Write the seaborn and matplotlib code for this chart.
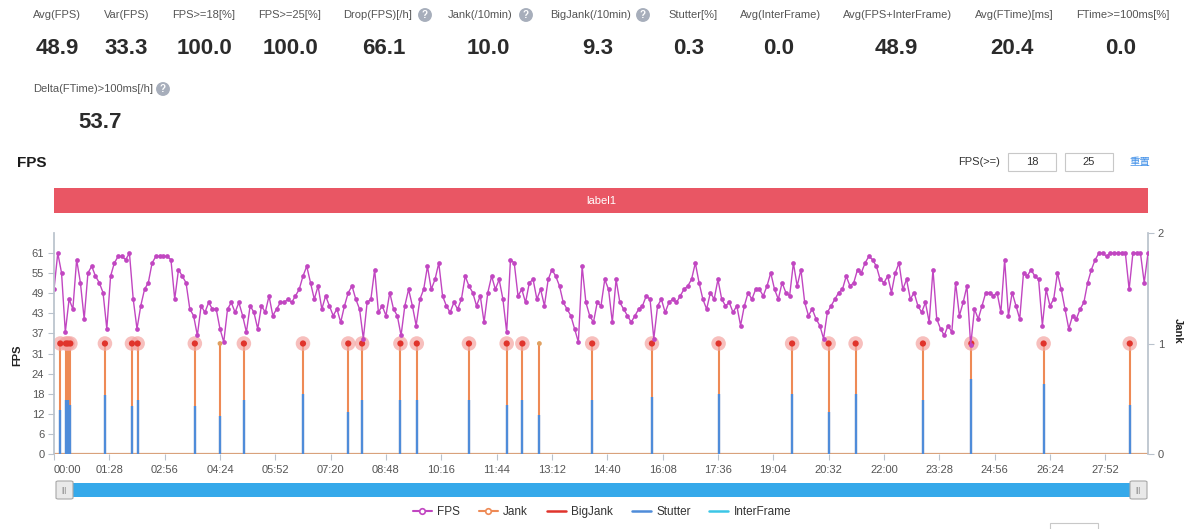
import numpy as np
import pandas as pd
import matplotlib
matplotlib.use("Agg")
import matplotlib.pyplot as plt
import seaborn as sns
from matplotlib.patches import Rectangle, FancyBboxPatch
from matplotlib.lines import Line2D

# ---------------- data ----------------
stat_labels = ["Avg(FPS)", "Var(FPS)", "FPS>=18[%]", "FPS>=25[%]", "Drop(FPS)[/h]",
               "Jank(/10min)", "BigJank(/10min)", "Stutter[%]", "Avg(InterFrame)",
               "Avg(FPS+InterFrame)", "Avg(FTime)[ms]", "FTime>=100ms[%]"]
stat_values = [48.9, 33.3, 100.0, 100.0, 66.1, 10.0, 9.3, 0.3, 0.0, 48.9, 20.4, 0.0]
stat_help = [False, False, False, False, True, True, True, False, False, False, False, False]
stat2_label = "Delta(FTime)>100ms[/h]"
stat2_value = 53.7

fps_step_s = 6
fps_values = [
    50, 61, 55, 37, 47, 44, 59, 52, 41, 55, 57, 54, 52, 49, 38, 54, 58, 60, 60, 59,
    61, 47, 38, 45, 50, 52, 58, 60, 60, 60, 60, 59, 47, 56, 54, 52, 44, 42, 36, 45,
    43, 46, 44, 44, 38, 34, 44, 46, 43, 46, 42, 37, 45, 43, 38, 45, 43, 48, 42, 44,
    46, 46, 47, 46, 48, 50, 54, 57, 52, 47, 51, 44, 48,
    45, 42, 44, 40, 45, 49, 51, 47, 44, 35, 46, 47, 56, 43, 45, 42, 49, 44, 42, 36,
    45, 50, 45, 39, 47, 50, 57, 50, 53, 58, 48, 45, 43, 46, 44, 47, 54, 51, 49, 45,
    48, 40, 49, 54, 50, 53, 47, 37, 59, 58, 48, 50, 46, 52, 53, 47, 50, 45, 53, 56,
    54, 51, 46, 44, 42, 38, 34, 57, 46, 42, 40, 46,
    45, 53, 50, 40, 53, 46, 44, 42, 40, 42, 44, 45, 48, 47, 35, 45, 47, 43, 46, 47,
    46, 48, 50, 51, 53, 58, 52, 47, 44, 49, 47, 53, 47, 45, 46, 43, 45, 39, 45, 49,
    47, 50, 50, 48, 51, 55, 50, 47, 52, 49, 48, 58, 51, 56, 46, 42, 44, 41, 39, 35,
    43, 45, 47, 49, 50, 54, 51, 52, 56, 55, 58, 60,
    59, 57, 53, 52, 54, 49, 55, 58, 50, 53, 47, 49, 45, 43, 46, 40, 56, 41, 38, 36,
    39, 37, 52, 42, 46, 51, 45, 44, 41, 45, 49, 49, 48, 49, 43, 59, 42, 49, 45, 41,
    55, 54, 56, 54, 53, 39, 50, 45, 47, 55, 50, 44, 38, 42, 41, 44, 46, 52, 56, 59,
    61, 61, 60, 61, 61, 61, 61, 61, 50, 61, 61, 61, 52, 61,
]
fps_values[1458 // 6] = 33

jank_times = [10, 19, 22, 26, 81, 124, 133, 224, 264, 302, 396, 468, 490, 551, 577,
              660, 720, 745, 772, 856, 951, 1057, 1174, 1232, 1275, 1382, 1459, 1574, 1711]
bigjank_flags = [1, 1, 1, 1, 1, 1, 1, 1, 0, 1, 1, 1, 1, 1, 1,
                 1, 1, 1, 0, 1, 1, 1, 1, 1, 1, 1, 1, 1, 1]
stutter_values = [0.40, 0.49, 0.49, 0.44, 0.53, 0.43, 0.49, 0.43, 0.34, 0.49, 0.54, 0.38,
                  0.49, 0.49, 0.49, 0.49, 0.44, 0.49, 0.35, 0.49, 0.52, 0.54, 0.54, 0.38,
                  0.54, 0.49, 0.68, 0.63, 0.44]
x_tick_labels = ["00:00", "01:28", "02:56", "04:24", "05:52", "07:20", "08:48", "10:16",
                 "11:44", "13:12", "14:40", "16:08", "17:36", "19:04", "20:32", "22:00",
                 "23:28", "24:56", "26:24", "27:52"]
y_left_ticks = [0, 6.1, 12.2, 18.3, 24.4, 30.5, 36.6, 42.7, 48.8, 54.9, 61.0]
y_left_tick_labels = ["0", "6", "12", "18", "24", "31", "37", "43", "49", "55", "61"]
y_right_ticks = [0, 1, 2]
t_end = 1740
fps_threshold = ["18", "25"]
band_label = "label1"

# ---------------- style ----------------
sns.set_theme(style="white")
plt.rcParams['font.family'] = ['Liberation Sans', 'Noto Sans CJK SC', 'DejaVu Sans']

C_FPS = "#c146c1"
C_JANK = "#ee8a55"
C_BIG = "#e0342c"
C_STUT = "#4f8cd9"
C_INTER = "#3cc6e6"
C_AXIS = "#b9c2cc"
C_TXT = "#555555"

W, H = 1200, 529
fig = plt.figure(figsize=(W / 100, H / 100), dpi=100)
fig.patch.set_facecolor("white")


def fx(px):
    return px / W


def fy(py):
    return 1 - py / H


# ---------------- header stats ----------------
label_x = [33, 104, 172, 258, 343, 448, 550, 668, 740, 843, 975, 1076]
icon_x = [0, 0, 0, 0, 425, 526, 643, 0, 0, 0, 0, 0]
value_cx = [57, 126, 204, 290, 384, 488, 598, 689, 779, 896, 1012, 1121]
qbox = dict(boxstyle="circle,pad=0.2", fc="#a7aebb", ec="none")
for i, (lab, val) in enumerate(zip(stat_labels, stat_values)):
    fig.text(fx(label_x[i]), fy(15), lab, ha="left", va="center", fontsize=8, color=C_TXT)
    if stat_help[i]:
        fig.text(fx(icon_x[i]), fy(15), "?", ha="center", va="center", fontsize=7,
                 color="white", fontweight="bold", bbox=qbox)
    fig.text(fx(value_cx[i]), fy(48), f"{val:.1f}", ha="center", va="center",
             fontsize=16, fontweight="bold", color="#2b2b2b")
fig.text(fx(33), fy(89), stat2_label, ha="left", va="center", fontsize=8, color=C_TXT)
fig.text(fx(163), fy(89), "?", ha="center", va="center", fontsize=7,
         color="white", fontweight="bold", bbox=qbox)
fig.text(fx(100), fy(122), f"{stat2_value:.1f}", ha="center", va="center",
         fontsize=16, fontweight="bold", color="#2b2b2b")

# ---------------- section header ----------------
fig.text(fx(17), fy(163), "FPS", ha="left", va="center", fontsize=11,
         fontweight="bold", color="#1a1a1a")
fig.text(fx(1000), fy(162), "FPS(>=)", ha="right", va="center", fontsize=8, color="#333333")
for bx, val in zip([1008, 1065], fps_threshold):
    fig.add_artist(Rectangle((fx(bx), fy(171)), 48 / W, 18 / H, transform=fig.transFigure,
                             fc="white", ec="#c8c8c8", lw=0.8))
    fig.text(fx(bx + 24), fy(162), val, ha="center", va="center", fontsize=8, color="#333333")
fig.text(fx(1129), fy(162), "重置", ha="left", va="center", fontsize=7.5, color="#3d8ee8")

# red label band
fig.add_artist(Rectangle((fx(54), fy(213)), 1094 / W, 25 / H, transform=fig.transFigure,
                         fc="#e95664", ec="none"))
fig.text(fx(601), fy(200.5), band_label, ha="center", va="center", fontsize=8, color="white")

# ---------------- main chart ----------------
ax = fig.add_axes([fx(54), fy(454), 1094 / W, 221 / H])
ax2 = ax.twinx()

fps_df = pd.DataFrame({"t": np.arange(len(fps_values)) * fps_step_s, "fps": fps_values})
jank_df = pd.DataFrame({"t": jank_times, "big": bigjank_flags, "stutter": stutter_values,
                        "jank": [1] * len(jank_times)})

# jank spikes (orange) and stutter (blue) on right axis
ax2.axhline(0, color="#d9a27c", lw=1.6, zorder=1)
ax2.vlines(jank_df["t"], 0, jank_df["jank"], color=C_JANK, lw=1.5, zorder=2)
ax2.vlines(jank_df["t"], 0, jank_df["stutter"], color=C_STUT, lw=1.7, zorder=3)
big = jank_df[jank_df["big"] == 1]
small = jank_df[jank_df["big"] == 0]
sns.scatterplot(data=big, x="t", y="jank", ax=ax2, s=110, color="#f4a5a2", alpha=0.7,
                edgecolor="none", zorder=4, legend=False)
sns.scatterplot(data=big, x="t", y="jank", ax=ax2, s=20, color=C_BIG,
                edgecolor="none", zorder=5, legend=False)
sns.scatterplot(data=small, x="t", y="jank", ax=ax2, s=12, color="#e0a060",
                edgecolor="none", zorder=5, legend=False)

# FPS line on left axis (drawn on top)
ax.set_zorder(ax2.get_zorder() + 1)
ax.patch.set_visible(False)
sns.lineplot(data=fps_df, x="t", y="fps", ax=ax, color=C_FPS, lw=1.0, marker="o",
             markersize=3.4, markeredgewidth=0, estimator=None, sort=False, legend=False)

# axes limits / ticks
tick_secs = [int(s.split(":")[0]) * 60 + int(s.split(":")[1]) for s in x_tick_labels]
ax.set_xlim(0, t_end)
ax.set_ylim(0, 67.1)
ax2.set_ylim(0, 2)
ax.set_xticks(tick_secs)
ax.set_xticklabels(x_tick_labels)
ax.set_yticks(y_left_ticks)
ax.set_yticklabels(y_left_tick_labels)
ax2.set_yticks(y_right_ticks)
ax2.set_yticklabels([str(v) for v in y_right_ticks])
ax.xaxis.get_majorticklabels()[0].set_ha("left")

ax.set_xlabel("")
ax.set_ylabel("")
ax2.set_ylabel("")
for a in (ax, ax2):
    a.grid(False)
    for sp in a.spines.values():
        sp.set_visible(False)
ax.spines["left"].set_visible(True)
ax.spines["left"].set_color(C_AXIS)
ax2.spines["right"].set_visible(True)
ax2.spines["right"].set_color(C_AXIS)

ax.tick_params(axis="x", direction="out", length=4, width=0.8, color=C_AXIS,
               labelsize=8, labelcolor=C_TXT, pad=4, bottom=True)
ax.tick_params(axis="y", direction="out", length=4, width=0.8, color=C_AXIS,
               labelsize=8, labelcolor=C_TXT, pad=3, left=True)
ax2.tick_params(axis="y", direction="out", length=4, width=0.8, color=C_AXIS,
                labelsize=8, labelcolor=C_TXT, pad=3, right=True)

fig.text(fx(17), fy(355), "FPS", rotation=90, ha="center", va="center",
         fontsize=8, fontweight="bold", color="#222222")
fig.text(fx(1178), fy(331), "Jank", rotation=270, ha="center", va="center",
         fontsize=8, fontweight="bold", color="#222222")

# ---------------- slider ----------------
fig.add_artist(Rectangle((fx(60), fy(497)), 1080 / W, 14 / H, transform=fig.transFigure,
                         fc="#35a9ea", ec="none"))
for hx in (56, 1130):
    fig.add_artist(FancyBboxPatch((fx(hx), fy(499)), 17 / W, 18 / H,
                                  boxstyle="round,pad=0,rounding_size=0.002",
                                  transform=fig.transFigure, fc="#e9e9e9", ec="#a8a8a8", lw=0.8))
    fig.text(fx(hx + 8.5), fy(490), "|||", ha="center", va="center", fontsize=5,
             color="#8a8a8a")

# ---------------- legend ----------------
handles = [
    Line2D([], [], color=C_FPS, lw=1.5, marker="o", markersize=4, markerfacecolor="white",
           markeredgecolor=C_FPS, markeredgewidth=1.2),
    Line2D([], [], color=C_JANK, lw=1.5, marker="o", markersize=4, markerfacecolor="white",
           markeredgecolor=C_JANK, markeredgewidth=1.2),
    Line2D([], [], color=C_BIG, lw=1.8),
    Line2D([], [], color=C_STUT, lw=1.8),
    Line2D([], [], color=C_INTER, lw=1.8),
]
fig.legend(handles, ["FPS", "Jank", "BigJank", "Stutter", "InterFrame"],
           loc="center", bbox_to_anchor=(fx(602), fy(512)), ncol=5, frameon=False,
           fontsize=8.5, handlelength=1.6, handletextpad=0.45, columnspacing=1.6,
           labelcolor="#333333")

# small box at bottom right
fig.add_artist(Rectangle((fx(1050), fy(531)), 48 / W, 8 / H, transform=fig.transFigure,
                         fc="white", ec="#c8c8c8", lw=0.8))

fig.savefig("out.png", dpi=100)
